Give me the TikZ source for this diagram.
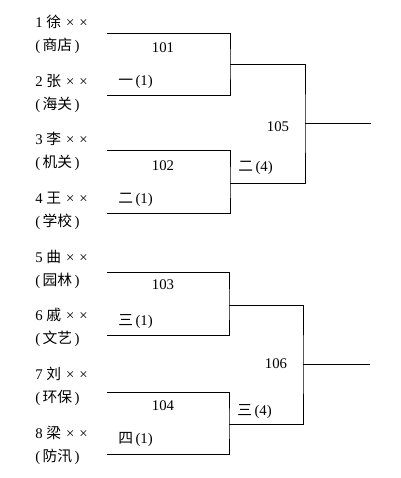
\documentclass[tikz,border=0pt]{standalone}
\usepackage{fontspec}
\setmainfont{Liberation Serif}
\newfontfamily\cjk{Noto Sans CJK SC}
\newcommand{\zhtxt}[1]{{\cjk #1}}
\tikzset{
  lbl/.style={font=\fontsize{10.5}{12}\selectfont, inner sep=0pt},
  player/.style={lbl, anchor=west},
  bracket/.style={line width=0.6pt}
}
\begin{document}
\begin{tikzpicture}[x=0.025cm, y=-0.025cm]
\useasboundingbox (0,0) rectangle (400,478);
% players and their units
\foreach \i/\nm/\un/\yy in {1/徐/商店/22, 2/张/海关/81, 3/李/机关/139, 4/王/学校/198,
                           5/曲/园林/257, 6/戚/文艺/315, 7/刘/环保/374, 8/梁/防汛/433}{
  \node[player] (p\i) at (35,\yy) {\i\ \zhtxt{\nm}\hspace{3.5pt}×\hspace{3.5pt}×};
  \node[player] (u\i) at (35,\yy+24) {(\,\zhtxt{\un}\,)};
}
% first round ends
\coordinate (s1) at (107,33);  \coordinate (s2) at (107,95);
\coordinate (s3) at (107,150); \coordinate (s4) at (107,213);
\coordinate (s5) at (107,272); \coordinate (s6) at (107,335);
\coordinate (s7) at (107,392); \coordinate (s8) at (107,454);
\coordinate (j101) at (230,64);  \coordinate (j102) at (230,183);
\coordinate (j103) at (229,305); \coordinate (j104) at (229,424);
\coordinate (j105) at (305,123); \coordinate (j106) at (303,364);
\coordinate (e105) at (371,123); \coordinate (e106) at (370,364);
% brackets
\draw[bracket] (s1) -| (j101) |- (s2);
\draw[bracket] (s3) -| (j102) |- (s4);
\draw[bracket] (s5) -| (j103) |- (s6);
\draw[bracket] (s7) -| (j104) |- (s8);
\draw[bracket] (j101) -| (j105) |- (j102);
\draw[bracket] (j103) -| (j106) |- (j104);
\draw[bracket] (j105) -- (e105);
\draw[bracket] (j106) -- (e106);
% match numbers and rounds
\node[lbl] (m101) at (163,48) {101};
\node[lbl] (m102) at (163,166) {102};
\node[lbl] (m103) at (163,285) {103};
\node[lbl] (m104) at (163,406) {104};
\node[lbl] (m105) at (278,127) {105};
\node[lbl] (m106) at (276,364) {106};
\node[player] (r101) at (118,82) {\zhtxt{一}\,(1)};
\node[player] (r102) at (118,200) {\zhtxt{二}\,(1)};
\node[player] (r103) at (118,322) {\zhtxt{三}\,(1)};
\node[player] (r104) at (118,440) {\zhtxt{四}\,(1)};
\node[player] (r105) at (238,168) {\zhtxt{二}\,(4)};
\node[player] (r106) at (237,412) {\zhtxt{三}\,(4)};
\end{tikzpicture}
\end{document}
